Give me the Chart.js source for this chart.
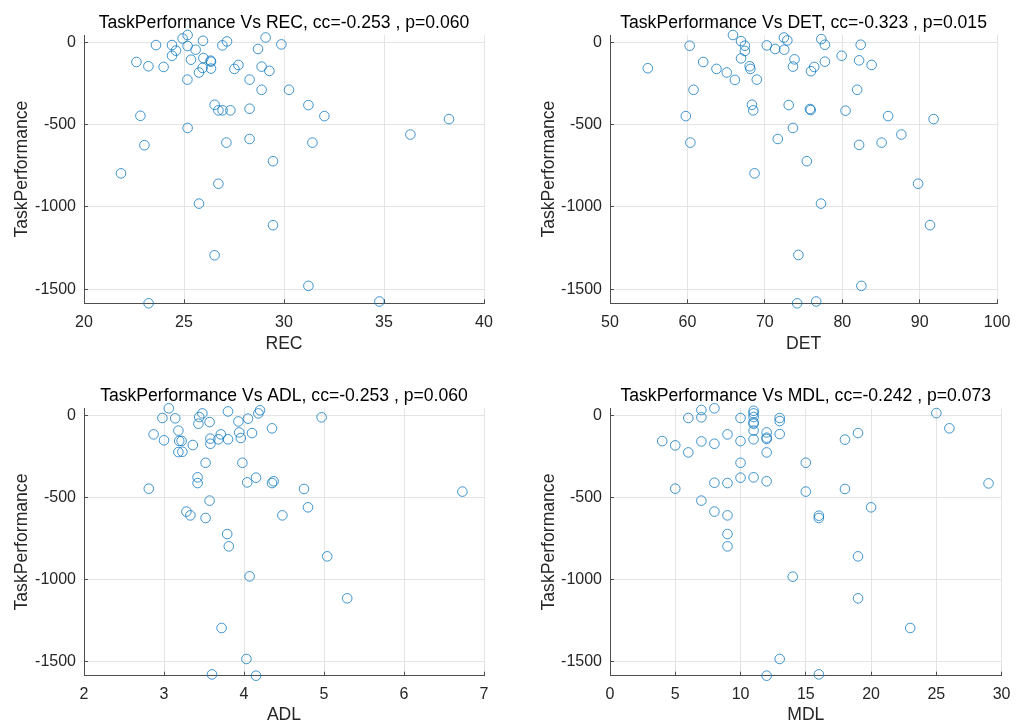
<!DOCTYPE html>
<html>
<head>
<meta charset="utf-8">
<script src="https://cdn.jsdelivr.net/npm/chart.js@4.4.0/dist/chart.umd.min.js"></script>
<style>
html, body { margin: 0; padding: 0; background: #fff; overflow: hidden; }
#wrap { position: relative; width: 1024px; height: 725px; }
canvas { position: absolute; }
</style>
</head>
<body>
<div id="wrap">
  <canvas id="recChart" width="512" height="362" style="left:0px;top:0px"></canvas>
  <canvas id="detChart" width="512" height="362" style="left:512px;top:0px"></canvas>
  <canvas id="adlChart" width="512" height="362" style="left:0px;top:363px"></canvas>
  <canvas id="mdlChart" width="512" height="362" style="left:512px;top:363px"></canvas>
</div>
<script>
// tick labels
var yTicks = [-1500, -1000, -500, 0];
var yMin = -1586, yMax = 45;
var recTicks = [20, 25, 30, 35, 40];
var detTicks = [50, 60, 70, 80, 90, 100];
var adlTicks = [2, 3, 4, 5, 6, 7];
var mdlTicks = [0, 5, 10, 15, 20, 25, 30];

// REC vs TaskPerformance
var recX = [24.93, 25.18, 23.6, 24.4, 24.6, 24.4, 25.18, 25.95, 25.58, 25.35, 25.97, 26.33, 26.35, 25.93, 25.75, 26.35, 26.92, 27.15, 22.62, 23.22,
  23.98, 25.17, 27.52, 27.72, 28.28, 26.53, 26.72, 26.93, 27.32, 28.28, 22.82, 25.18, 28.28, 27.12, 23.02, 21.85, 26.72, 25.75, 26.53, 23.23,
  29.08, 29.87, 28.7, 28.88, 29.27, 28.88, 30.25, 31.22, 32.02, 38.25, 36.32, 31.42, 29.45, 29.45, 31.22, 34.77];
var recY = [24, 45, -16, -16, -50, -81, -22, 10, -44, -105, -95, -111, -117, -155, -183, -159, -18, 6, -119, -145,
  -149, -226, -161, -137, -226, -379, -413, -413, -413, -403, -446, -520, -587, -609, -625, -796, -859, -980, -1294, -1586,
  30, -12, -40, -147, -173, -288, -288, -381, -448, -466, -560, -609, -722, -1111, -1480, -1575];

// DET vs TaskPerformance
var detX = [54.88, 60.29, 65.88, 66.92, 67.42, 67.42, 66.92, 62.04, 63.75, 65.08, 66.13, 68.04, 68.13, 68.96, 60.79, 68.33, 68.5, 59.79, 60.38, 68.67,
  70.25, 71.33, 72.5, 72.46, 72.9, 73.83, 73.63, 77.29, 77.75, 75.96, 76.38, 77.75, 79.92, 82.38, 82.17, 83.79, 81.92, 73.08, 75.83, 75.92,
  80.42, 85.92, 91.79, 73.63, 71.67, 82.17, 85.08, 87.63, 75.42, 89.79, 77.25, 91.33, 74.33, 82.46, 74.17, 76.63];
var detY = [-157, -20, 45, 8, -20, -52, -97, -119, -161, -183, -228, -145, -161, -226, -288, -379, -413, -448, -609, -796,
  -18, -40, -44, 30, 12, -103, -147, 20, -14, -175, -149, -117, -81, -14, -109, -137, -288, -381, -405, -411,
  -415, -448, -466, -520, -587, -623, -609, -560, -722, -859, -980, -1111, -1292, -1480, -1586, -1575];

// ADL vs TaskPerformance
var adlX = [3.06, 2.98, 3.14, 2.87, 3.0, 3.18, 3.19, 3.22, 3.18, 3.23, 3.36, 3.48, 3.44, 3.43, 3.57, 3.58, 3.58, 3.71, 3.68, 3.8,
  3.8, 3.52, 3.42, 3.42, 2.81, 3.57, 3.28, 3.33, 3.52, 3.79, 3.81, 3.72, 3.6, 3.93, 3.94, 3.96, 3.98, 4.05, 4.1, 4.04,
  4.07, 4.03, 4.15, 4.18, 4.2, 4.15, 4.35, 4.35, 4.37, 4.97, 4.75, 4.8, 4.48, 6.73, 5.04, 5.29];
var adlY = [45, -14, -16, -114, -150, -91, -154, -154, -222, -220, -179, 14, -8, -49, -39, -140, -171, -114, -144, -144,
  26, -287, -376, -411, -445, -518, -585, -608, -624, -722, -797, -1295, -1578, -35, -102, -136, -287, -18, -106, -407,
  -980, -1484, -1586, 14, 33, -378, -77, -411, -400, -10, -447, -559, -608, -463, -858, -1114];

// MDL vs TaskPerformance
var mdlX = [4, 5, 5, 6, 6, 7, 7, 7, 7, 8, 8, 8, 8, 9, 9, 9, 9, 9, 10, 10,
  10, 10, 11, 11, 11, 11, 11, 11, 11, 11, 12, 12, 12, 12, 12, 12, 13, 13, 13, 13,
  15, 15, 14, 16, 16, 16, 18, 18, 19, 19, 19, 20, 23, 25, 26, 29];
var mdlY = [-155, -181, -445, -14, -224, 35, -10, -157, -518, 45, -171, -409, -585, -114, -411, -608, -722, -797, -14, -155,
  -287, -378, 30, 14, -8, -41, -49, -91, -144, -376, -102, -134, -142, -224, -400, -1586, -14, -33, -112, -1484,
  -287, -463, -982, -610, -624, -1578, -146, -447, -106, -858, -1114, -559, -1295, 16, -77, -413];

Chart.defaults.font.family = "'Liberation Sans', Arial, sans-serif";

var axisColor = '#4d4d4d';
var gridColor = '#e4e4e4';
var textColor = '#262626';

var topRow = { titleTop: 12.5, titleBottom: 1.4, xAxisH: 58.7, xTitlePad: 9.3 };
var bottomRow = { titleTop: 23, titleBottom: 1.2, xAxisH: 49.3, xTitlePad: 0.6 };
var leftCol = { yAxisW: 84, rightPad: 28, yTitlePad: 13.4 };
var rightCol = { yAxisW: 98, rightPad: 14, yTitlePad: 28.1 };

function plainTick(v) { return String(v); }

function scatterPlot(id, row, col, xs, ys, xTicks, title, xLabel) {
  var pts = [];
  for (var i = 0; i < xs.length; i++) pts.push({ x: xs[i], y: ys[i] });

  return new Chart(document.getElementById(id), {
    type: 'scatter',
    data: {
      datasets: [{
        data: pts,
        pointStyle: 'circle',
        pointRadius: 4.8,
        pointBorderWidth: 1,
        pointBorderColor: 'rgba(0,114,189,0.75)',
        pointBackgroundColor: 'rgba(0,0,0,0)',
        clip: false
      }]
    },
    options: {
      responsive: false,
      animation: false,
      devicePixelRatio: 1,
      events: [],
      layout: { padding: { left: 0, top: 0, right: col.rightPad, bottom: 0 } },
      plugins: {
        legend: { display: false },
        tooltip: { enabled: false },
        title: {
          display: true,
          text: title,
          color: '#000',
          fullSize: false,
          font: { size: 17.6, weight: 'normal', lineHeight: 1.2 },
          padding: { top: row.titleTop, bottom: row.titleBottom }
        }
      },
      scales: {
        x: {
          type: 'linear',
          min: xTicks[0],
          max: xTicks[xTicks.length - 1],
          afterBuildTicks: function (s) { s.ticks = xTicks.map(function (v) { return { value: v }; }); },
          afterFit: function (s) { s.height = row.xAxisH; },
          grid: { color: gridColor, tickColor: axisColor, tickLength: -4, drawTicks: true },
          border: { color: axisColor, width: 1 },
          ticks: { padding: 13.5, color: textColor, font: { size: 16 }, maxRotation: 0, autoSkip: false, callback: plainTick },
          title: { display: true, text: xLabel, color: textColor, font: { size: 17.6, lineHeight: 1 }, padding: { top: 0, bottom: row.xTitlePad } }
        },
        y: {
          type: 'linear',
          min: yMin,
          max: yMax,
          afterBuildTicks: function (s) { s.ticks = yTicks.map(function (v) { return { value: v }; }); },
          afterFit: function (s) { s.width = col.yAxisW; },
          grid: { color: gridColor, tickColor: axisColor, tickLength: -4, drawTicks: true },
          border: { color: axisColor, width: 1 },
          ticks: { padding: 12, color: textColor, font: { size: 16 }, autoSkip: false, callback: plainTick },
          title: { display: true, text: 'TaskPerformance', color: textColor, font: { size: 17.6, lineHeight: 1 }, padding: { top: col.yTitlePad, bottom: 0 } }
        }
      }
    }
  });
}

scatterPlot('recChart', topRow, leftCol, recX, recY, recTicks, 'TaskPerformance Vs REC, cc=-0.253 , p=0.060', 'REC');
scatterPlot('detChart', topRow, rightCol, detX, detY, detTicks, 'TaskPerformance Vs DET, cc=-0.323 , p=0.015', 'DET');
scatterPlot('adlChart', bottomRow, leftCol, adlX, adlY, adlTicks, 'TaskPerformance Vs ADL, cc=-0.253 , p=0.060', 'ADL');
scatterPlot('mdlChart', bottomRow, rightCol, mdlX, mdlY, mdlTicks, 'TaskPerformance Vs MDL, cc=-0.242 , p=0.073', 'MDL');
</script>
</body>
</html>
